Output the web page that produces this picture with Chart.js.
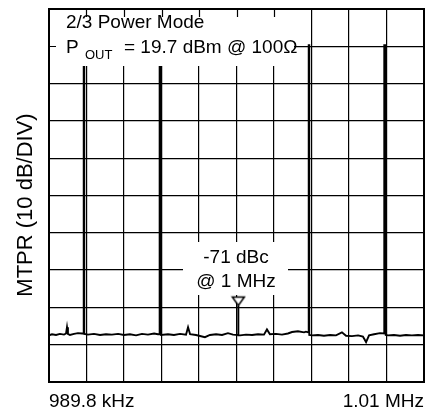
<!DOCTYPE html>
<html>
<head>
<meta charset="utf-8">
<script src="https://cdn.jsdelivr.net/npm/chart.js@4.4.1/dist/chart.umd.min.js"></script>
<style>
  html, body { margin: 0; padding: 0; background: #fff; }
  #wrap { width: 434px; height: 416px; position: relative; }
</style>
</head>
<body>
<div id="wrap"><canvas id="c" width="434" height="416"></canvas></div>
<script>
// Spectrum trace: frequency (kHz) and level (dBc), one entry per trace point.
const traceFreqKHz = [
  989.80, 989.96, 990.18, 990.39, 990.61, 990.72, 990.77, 990.82, 990.93, 991.15,
  991.36, 991.58, 991.67, 991.67, 991.70, 991.70, 991.90, 992.22, 992.55, 992.87,
  993.19, 993.52, 993.84, 994.16, 994.49, 994.81, 995.13, 995.46, 995.67, 995.76,
  995.76, 995.84, 995.84, 996.21, 996.53, 996.86, 997.18, 997.29, 997.40, 997.72,
  998.20, 998.47, 998.80, 999.12, 999.44, 999.71, 1000.00, 1000.00, 1000.00, 1000.09,
  1000.41, 1000.74, 1001.06, 1001.38, 1001.54, 1001.70, 1002.03, 1002.35, 1002.67, 1002.89,
  1003.21, 1003.54, 1003.64, 1003.79, 1003.79, 1003.82, 1003.82, 1003.97, 1004.29, 1004.61,
  1004.94, 1005.26, 1005.58, 1005.80, 1006.12, 1006.45, 1006.71, 1006.88, 1007.04, 1007.31,
  1007.63, 1007.86, 1007.86, 1007.94, 1007.94, 1008.06, 1008.38, 1008.71, 1009.03, 1009.35,
  1009.68, 1010.00
];
const traceLevelDBc = [
  -79.0, -78.7, -78.9, -78.6, -78.8, -78.5, -76.8, -78.6, -78.9, -78.6,
  -78.4, -78.5, -78.4, -1.2, -1.2, -78.6, -78.8, -78.6, -78.9, -78.7,
  -78.8, -78.6, -78.9, -78.7, -79.0, -78.6, -78.8, -78.5, -78.7, -78.7,
  -1.2, -1.2, -78.9, -78.7, -78.9, -78.6, -78.8, -76.8, -78.7, -78.9,
  -79.5, -78.9, -78.7, -78.9, -78.4, -78.8, -78.9, -71.0, -79.0, -79.0,
  -78.8, -78.9, -78.7, -78.8, -77.4, -78.7, -78.6, -78.8, -78.5, -78.1,
  -77.9, -78.2, -78.0, -78.2, -1.2, -1.2, -78.9, -79.0, -78.9, -79.1,
  -78.9, -79.0, -78.2, -79.1, -79.2, -79.0, -79.3, -80.8, -79.0, -78.7,
  -78.4, -78.5, -1.2, -1.2, -78.9, -79.0, -78.9, -79.1, -78.9, -79.0,
  -78.9, -79.0
];

// Marker on the 1 MHz product
const markerFreqKHz = [1000.0];
const markerLevelDBc = [-71];

// Display span and reference level
const freqStartKHz = 989.8;
const freqStopKHz = 1010.0;
const refLevelDBc = 8.5;
const dbPerDiv = 10;
const divisions = 10;

// Text
const xEndLabels = ['989.8 kHz', '1.01 MHz'];
const yTitle = 'MTPR (10 dB/DIV)';
const modeText = '2/3 Power Mode';
const poutParts = ['P', 'OUT', '= 19.7 dBm @ 100\u03A9'];
const markerText = ['-71 dBc', '@ 1 MHz'];

const FONT = '"Liberation Sans", Arial, Helvetica, sans-serif';

// Hollow down-pointing triangle, apex at the image centre so it sits on the marked point
function makeTriangle() {
  const c = document.createElement('canvas');
  c.width = 16; c.height = 24;
  const g = c.getContext('2d');
  g.beginPath();
  g.moveTo(2, 3.5); g.lineTo(14, 3.5); g.lineTo(8, 12); g.closePath();
  g.fillStyle = '#fff'; g.fill();
  g.lineWidth = 1.5; g.strokeStyle = '#000'; g.stroke();
  return c;
}

function evenTicks(min, max) {
  const out = [];
  for (let k = 0; k <= divisions; k++) out.push({ value: min + k * (max - min) / divisions });
  return out;
}

const yMin = refLevelDBc - dbPerDiv * divisions;
const yMax = refLevelDBc;

const overlay = {
  id: 'overlay',
  afterDraw(chart) {
    const ctx = chart.ctx;
    const a = chart.chartArea;
    const xs = chart.scales.x, ys = chart.scales.y;
    ctx.save();

    // Label backgrounds
    ctx.fillStyle = '#fff';
    ctx.fillRect(a.left + 1, a.top + 1, 244, 56);
    ctx.fillRect(183, 242, 105, 53);

    // Frame
    ctx.strokeStyle = '#000';
    ctx.lineWidth = 2;
    ctx.strokeRect(a.left, a.top, a.right - a.left, a.bottom - a.top);

    // Short border ticks where the grid is hidden
    ctx.lineWidth = 1.2;
    ctx.beginPath();
    for (let k = 1; k < divisions; k++) {
      const px = Math.round(xs.getPixelForValue(freqStartKHz + k * (freqStopKHz - freqStartKHz) / divisions)) + 0.5;
      if (px < a.left + 246) { ctx.moveTo(px, a.top); ctx.lineTo(px, a.top + 8); }
    }
    const py = Math.round(ys.getPixelForValue(yMax - dbPerDiv)) + 0.5;
    ctx.moveTo(a.left, py); ctx.lineTo(a.left + 7, py);
    ctx.stroke();

    ctx.fillStyle = '#000';
    ctx.textBaseline = 'alphabetic';

    // Operating conditions
    ctx.textAlign = 'left';
    ctx.font = '19px ' + FONT;
    ctx.fillText(modeText, 66, 28);
    ctx.fillText(poutParts[0], 66, 53);
    ctx.font = '13px ' + FONT;
    ctx.fillText(poutParts[1], 85, 59);
    ctx.font = '19px ' + FONT;
    ctx.fillText(poutParts[2], 124, 53);

    // Marker readout
    ctx.textAlign = 'center';
    ctx.fillText(markerText[0], 236, 263);
    ctx.fillText(markerText[1], 236, 287);

    // Span end labels
    ctx.textAlign = 'left';
    ctx.fillText(xEndLabels[0], a.left, 407);
    ctx.textAlign = 'right';
    ctx.fillText(xEndLabels[1], a.right, 407);

    // Vertical axis title
    ctx.save();
    ctx.translate(32, 205);
    ctx.rotate(-Math.PI / 2);
    ctx.textAlign = 'center';
    ctx.font = '22px ' + FONT;
    ctx.fillText(yTitle, 0, 0);
    ctx.restore();

    ctx.restore();
  }
};

new Chart(document.getElementById('c'), {
  type: 'line',
  data: {
    datasets: [
      {
        data: traceFreqKHz.map((f, i) => ({ x: f, y: traceLevelDBc[i] })),
        borderColor: '#000',
        borderWidth: 1.9,
        pointRadius: 0,
        tension: 0,
        fill: false
      },
      {
        data: markerFreqKHz.map((f, i) => ({ x: f, y: markerLevelDBc[i] })),
        showLine: false,
        pointStyle: makeTriangle(),
        pointRadius: 8
      }
    ]
  },
  options: {
    responsive: false,
    animation: false,
    devicePixelRatio: 1,
    layout: { padding: { left: 49, top: 7, right: 10, bottom: 34 } },
    plugins: { legend: { display: false }, tooltip: { enabled: false } },
    scales: {
      x: {
        type: 'linear',
        min: freqStartKHz,
        max: freqStopKHz,
        afterBuildTicks: s => { s.ticks = evenTicks(freqStartKHz, freqStopKHz); },
        ticks: { display: false },
        grid: { color: '#000', lineWidth: 1.2, drawTicks: false },
        border: { display: false }
      },
      y: {
        type: 'linear',
        min: yMin,
        max: yMax,
        afterBuildTicks: s => { s.ticks = evenTicks(yMin, yMax); },
        ticks: { display: false },
        grid: { color: '#000', lineWidth: 1.2, drawTicks: false },
        border: { display: false }
      }
    }
  },
  plugins: [overlay]
});
</script>
</body>
</html>
